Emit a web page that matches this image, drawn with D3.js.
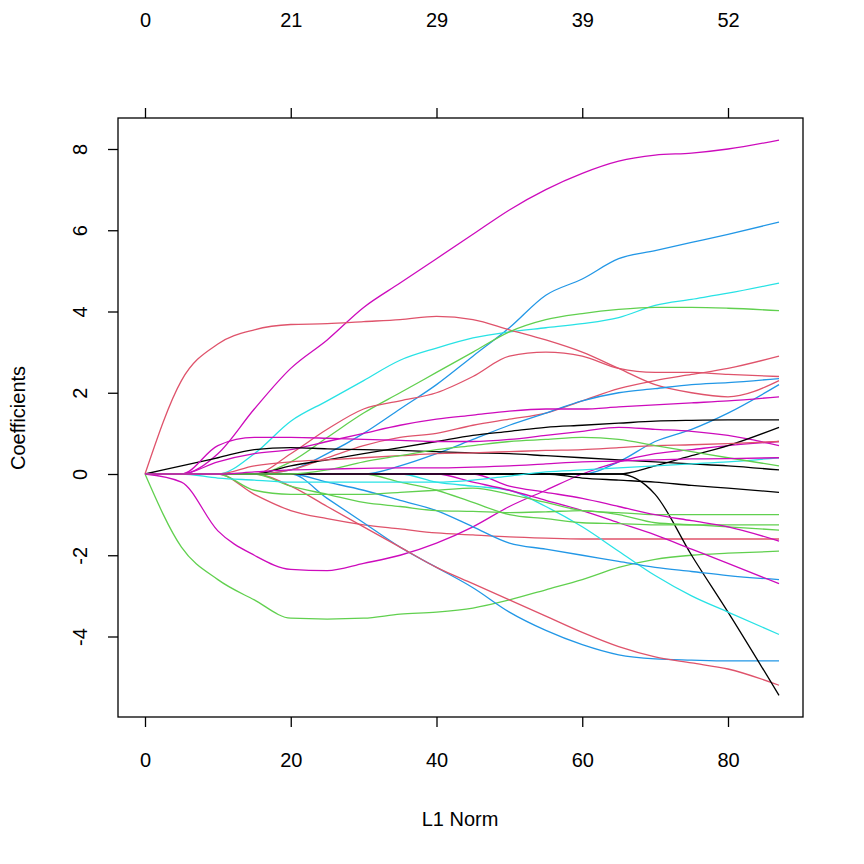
<!DOCTYPE html>
<html><head><meta charset="utf-8">
<script src="https://cdn.jsdelivr.net/npm/d3@7"></script>
<style>body{margin:0;background:#fff}svg{font-family:"Liberation Sans",Arial,sans-serif}</style>
</head><body><svg id="c" width="864" height="864"></svg>
<script>
// L1 norm grid shared by every path
const xs = [0,5,10,15,20,25,30,35,40,45,50,55,60,65,70,75,80,87]
const topTicks = [0,21,29,39,52]
const palette = ['#000000','#DF536B','#61D04F','#2297E6','#28E2E5','#CD0BBC']

// [colour index, values at xs]
const paths = [
  [5,[0,0,0.5,1.6,2.6,3.3,4.1,4.7,5.3,5.9,6.5,7.0,7.4,7.7,7.85,7.9,8.0,8.22]],
  [3,[0,0,0,0,0.1,0.5,1.0,1.6,2.2,2.9,3.6,4.4,4.8,5.3,5.5,5.7,5.9,6.2]],
  [4,[0,0,0,0.5,1.3,1.8,2.3,2.8,3.1,3.35,3.5,3.6,3.7,3.85,4.15,4.3,4.45,4.7]],
  [1,[0,2.3,3.2,3.55,3.68,3.7,3.75,3.8,3.88,3.8,3.55,3.3,3.0,2.6,2.2,2.0,1.9,2.3]],
  [2,[0,0,0,0,0.3,0.9,1.5,2.0,2.5,3.0,3.5,3.8,3.95,4.05,4.1,4.1,4.08,4.02]],
  [1,[0,0,0,0,0.5,1.1,1.6,1.8,2.0,2.4,2.9,3.0,2.9,2.6,2.5,2.5,2.45,2.4]],
  [1,[0,0,0,0,0.1,0.4,0.7,0.9,1.0,1.2,1.35,1.5,1.8,2.1,2.3,2.45,2.6,2.9]],
  [3,[0,0,0,0,0,0,0,0.2,0.5,0.85,1.2,1.5,1.8,2.0,2.1,2.2,2.25,2.35]],
  [3,[0,0,0,0,0,0,0,0,0,0,0,0,0,0.3,0.8,1.1,1.5,2.2]],
  [5,[0,0,0.3,0.5,0.6,0.8,1.0,1.2,1.35,1.45,1.55,1.6,1.6,1.65,1.7,1.75,1.8,1.9]],
  [0,[0,0,0,0,0.2,0.35,0.5,0.65,0.8,0.95,1.05,1.15,1.2,1.25,1.3,1.32,1.33,1.33]],
  [0,[0,0.2,0.4,0.6,0.65,0.62,0.6,0.58,0.55,0.52,0.5,0.45,0.4,0.35,0.3,0.25,0.2,0.1]],
  [5,[0,0,0.7,0.9,0.9,0.88,0.85,0.83,0.8,0.8,0.85,0.95,1.05,1.15,1.1,1.05,0.95,0.7]],
  [1,[0,0,0,-0.5,-0.9,-1.1,-1.25,-1.35,-1.45,-1.5,-1.55,-1.58,-1.6,-1.6,-1.6,-1.6,-1.6,-1.6]],
  [5,[0,-0.2,-1.4,-2.0,-2.35,-2.38,-2.2,-2.0,-1.7,-1.3,-0.8,-0.4,0,0.3,0.5,0.6,0.7,0.8]],
  [2,[0,-1.8,-2.6,-3.1,-3.55,-3.57,-3.55,-3.45,-3.4,-3.3,-3.1,-2.85,-2.6,-2.3,-2.1,-2.0,-1.95,-1.9]],
  [3,[0,0,0,0,0,-0.6,-1.2,-1.8,-2.3,-2.8,-3.4,-3.85,-4.2,-4.45,-4.55,-4.58,-4.6,-4.6]],
  [1,[0,0,0,0,-0.3,-0.8,-1.3,-1.8,-2.3,-2.7,-3.1,-3.5,-3.9,-4.25,-4.5,-4.65,-4.8,-5.2]],
  [0,[0,0,0,0,0,0,0,0,0,0,0,0,0,0,-0.5,-2.0,-3.4,-5.45]],
  [0,[0,0,0,0,0,0,0,0,0,0,0,0,0,0,0.2,0.45,0.7,1.15]],
  [4,[0,0,0,0,0,0,0,0,-0.2,-0.3,-0.4,-0.8,-1.3,-1.9,-2.5,-3.0,-3.4,-3.95]],
  [3,[0,0,0,0,0,-0.2,-0.4,-0.65,-0.9,-1.3,-1.7,-1.85,-2.0,-2.15,-2.3,-2.4,-2.5,-2.6]],
  [5,[0,0,0,0,0,0,0,0,0,-0.2,-0.4,-0.65,-0.9,-1.2,-1.5,-1.85,-2.2,-2.7]],
  [2,[0,0,0,-0.4,-0.5,-0.5,-0.5,-0.45,-0.4,-0.35,-0.5,-0.7,-0.9,-0.95,-1.0,-1.0,-1.0,-1.0]],
  [2,[0,0,0,0,-0.3,-0.5,-0.7,-0.8,-0.9,-0.92,-0.95,-0.93,-0.9,-1.0,-1.2,-1.25,-1.3,-1.38]],
  [2,[0,0,0,0,0,0,0,-0.2,-0.4,-0.7,-1.0,-1.1,-1.2,-1.22,-1.25,-1.25,-1.25,-1.25]],
  [5,[0,0,0,0,0,0,0,0,0,0,-0.3,-0.45,-0.6,-0.8,-1.0,-1.15,-1.3,-1.65]],
  [0,[0,0,0,0,0,0,0,0,0,0,0,0,-0.1,-0.15,-0.2,-0.28,-0.35,-0.45]],
  [4,[0,0,-0.1,-0.15,-0.2,-0.2,-0.2,-0.2,-0.2,-0.15,-0.05,0.05,0.1,0.15,0.2,0.25,0.3,0.4]],
  [1,[0,0,0,0.2,0.3,0.35,0.4,0.45,0.5,0.52,0.55,0.58,0.6,0.65,0.7,0.72,0.75,0.8]],
  [2,[0,0,0,0,0,0.1,0.3,0.45,0.6,0.7,0.8,0.85,0.9,0.85,0.7,0.55,0.4,0.2]],
  [5,[0,0,0,0.05,0.1,0.12,0.14,0.15,0.15,0.17,0.2,0.25,0.3,0.32,0.35,0.37,0.38,0.4]]
]

const svg = d3.select('#c')
const x = d3.scaleLinear().domain([0, 80]).range([145, 728])
const y = d3.scaleLinear().domain([0, 8]).range([474, 149])
const font = '"Liberation Sans",Arial,sans-serif'
const fs = 20

svg.append('g')
  .selectAll('path').data(paths).enter().append('path')
  .attr('d', d => d3.line().curve(d3.curveMonotoneX).x((v, i) => x(xs[i])).y(v => y(v))(d[1]))
  .attr('fill', 'none').attr('stroke', d => palette[d[0]]).attr('stroke-width', 1.3)

svg.append('rect').attr('x', 118).attr('y', 118).attr('width', 685).attr('height', 599)
  .attr('fill', 'none').attr('stroke', '#000').attr('stroke-width', 1.3)

const axB = svg.append('g').attr('transform', 'translate(0,717)')
  .call(d3.axisBottom(x).tickValues([0,20,40,60,80]).tickSize(10))
const axT = svg.append('g').attr('transform', 'translate(0,118)')
  .call(d3.axisTop(x).tickValues([0,20,40,60,80]).tickFormat((d, i) => topTicks[i]).tickSize(10))
const axL = svg.append('g').attr('transform', 'translate(118,0)')
  .call(d3.axisLeft(y).tickValues([-4,-2,0,2,4,6,8]).tickSize(10).tickFormat(''))
;[axB, axT, axL].forEach(g => {
  g.select('.domain').remove()
  g.selectAll('line').attr('stroke-width', 1.3)
  g.selectAll('text').attr('font-size', fs).attr('fill', '#000').attr('font-family', font)
})
axB.selectAll('text').attr('y', 50).attr('dy', 0)
axT.selectAll('text').attr('y', -91).attr('dy', 0)
axL.selectAll('.tick').append('text')
  .attr('transform', 'translate(-38,0) rotate(-90)').attr('text-anchor', 'middle').attr('dy', '0.35em')
  .attr('font-size', fs).attr('fill', '#000').attr('font-family', font)
  .text(d => d)

svg.append('text').attr('x', 460).attr('y', 826).attr('text-anchor', 'middle')
  .attr('font-size', fs).attr('font-family', font).text('L1 Norm')
svg.append('text').attr('transform', 'translate(25,418) rotate(-90)').attr('text-anchor', 'middle')
  .attr('font-size', fs).attr('font-family', font).text('Coefficients')
</script></body></html>
